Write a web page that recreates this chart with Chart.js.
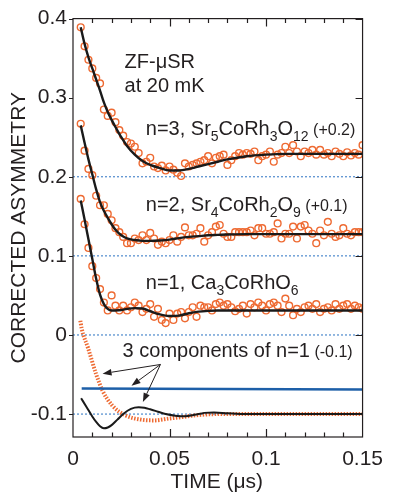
<!DOCTYPE html>
<html>
<head>
<meta charset="utf-8">
<script src="https://cdn.jsdelivr.net/npm/chart.js@4"></script>
<style>
  html, body { margin: 0; padding: 0; background: #fff; }
  #wrap { width: 393px; height: 497px; }
</style>
</head>
<body>
<div id="wrap"><canvas id="asymChart" width="393" height="497"></canvas></div>
<script>
// measured time bins (µs)
const TIME = [0.004,0.006,0.008,0.010,0.012,0.014,0.016,0.018,0.020,0.022,0.024,0.026,0.028,0.030,0.032,0.034,0.036,0.038,0.040,0.042,
  0.044,0.046,0.048,0.050,0.052,0.054,0.056,0.058,0.060,0.062,0.064,0.066,0.068,0.070,0.072,0.074,0.076,0.078,0.080,0.082,
  0.084,0.086,0.088,0.090,0.092,0.094,0.096,0.098,0.100,0.102,0.104,0.106,0.108,0.110,0.112,0.114,0.116,0.118,0.120,0.122,
  0.124,0.126,0.128,0.130,0.132,0.134,0.136,0.138,0.140,0.142,0.144,0.146,0.148,0.150];

// n=3 Sr5CoRh3O12 (+0.2)
const N3 = [0.389,0.365,0.348,0.337,0.325,0.318,0.285,0.277,0.281,0.269,
  0.259,0.252,0.244,0.242,0.238,0.230,0.217,0.219,0.224,0.213,
  0.211,0.214,0.208,0.213,0.209,0.205,0.201,0.217,0.213,0.215,
  0.217,0.219,0.221,0.226,0.217,0.224,0.226,0.228,0.215,0.221,
  0.226,0.230,0.228,0.230,0.229,0.232,0.221,0.226,0.228,0.232,
  0.219,0.228,0.230,0.238,0.230,0.240,0.232,0.226,0.232,0.230,
  0.234,0.228,0.234,0.228,0.230,0.226,0.232,0.229,0.226,0.231,
  0.227,0.230,0.228,0.240];

// n=2 Sr4CoRh2O9 (+0.1)
const N2 = [0.267,0.233,0.210,0.202,0.176,0.164,0.164,0.153,0.145,0.135,
  0.130,0.124,0.116,0.116,0.122,0.120,0.126,0.120,0.129,0.122,
  0.114,0.118,0.116,0.120,0.126,0.118,0.124,0.136,0.126,0.126,
  0.128,0.135,0.118,0.126,0.130,0.137,0.139,0.128,0.124,0.124,
  0.130,0.130,0.130,0.130,0.132,0.126,0.135,0.135,0.128,0.128,
  0.130,0.141,0.122,0.128,0.128,0.137,0.122,0.137,0.139,0.132,
  0.128,0.116,0.132,0.126,0.143,0.128,0.124,0.126,0.135,0.128,
  0.126,0.130,0.130,0.130];

// n=1 Ca3CoRhO6
const N1 = [0.172,0.140,0.110,0.087,0.072,0.058,0.041,0.031,0.050,0.037,
  0.031,0.037,0.031,0.035,0.041,0.037,0.029,0.033,0.039,0.023,
  0.033,0.019,0.015,0.027,0.019,0.027,0.029,0.021,0.029,0.035,
  0.023,0.037,0.035,0.035,0.031,0.039,0.041,0.037,0.039,0.035,
  0.030,0.033,0.037,0.027,0.039,0.035,0.041,0.037,0.031,0.039,
  0.041,0.037,0.029,0.046,0.037,0.025,0.033,0.029,0.035,0.037,
  0.033,0.039,0.029,0.033,0.035,0.031,0.039,0.033,0.037,0.039,
  0.033,0.037,0.035,0.033];

// fit curves
const FIT_T = [0.004,0.006,0.008,0.010,0.012,0.014,0.016,0.018,0.020,0.022,0.025,0.028,0.032,0.036,0.040,
  0.045,0.050,0.055,0.060,0.065,0.070,0.075,0.080,0.090,0.100,0.110,0.120,0.130,0.140,0.150];
const FIT3 = [0.389,0.368,0.351,0.337,0.323,0.309,0.294,0.282,0.272,0.263,0.250,0.239,0.228,0.220,0.215,
  0.211,0.208,0.208,0.210,0.213,0.216,0.219,0.222,0.226,0.228,0.229,0.229,0.229,0.229,0.229];
const FIT2 = [0.265,0.243,0.222,0.203,0.184,0.168,0.157,0.148,0.140,0.133,0.126,0.122,0.120,0.119,0.119,
  0.1195,0.1205,0.1225,0.124,0.125,0.126,0.1265,0.127,0.1275,0.1275,0.1275,0.1275,0.1275,0.1275,0.1275];
const FIT1 = [0.170,0.146,0.121,0.096,0.071,0.051,0.039,0.033,0.031,0.031,0.0315,0.033,0.034,0.0335,0.030,
  0.026,0.024,0.0245,0.0275,0.0295,0.0305,0.031,0.031,0.031,0.031,0.031,0.031,0.031,0.031,0.031];

// 3 components of n=1 (-0.1)
const OSC_T = [0.0042,0.007,0.010,0.012,0.014,0.016,0.018,0.020,0.023,0.026,0.030,0.034,0.037,0.040,0.044,
  0.048,0.053,0.058,0.063,0.068,0.073,0.080,0.090,0.100,0.150];
const OSC_V = [-0.080,-0.091,-0.103,-0.110,-0.1155,-0.118,-0.117,-0.114,-0.107,-0.100,-0.0935,-0.0915,-0.092,-0.094,-0.097,
  -0.100,-0.102,-0.1027,-0.101,-0.0985,-0.098,-0.099,-0.100,-0.100,-0.100];
const FAST_T = [0.0038,0.0045,0.0078,0.012,0.0153,0.0203,0.027,0.0353,0.042,0.050,0.057,0.0637,0.075,0.090,0.150];
const FAST_V = [0.018,0.008,-0.0166,-0.0497,-0.0704,-0.089,-0.1015,-0.107,-0.108,-0.1056,-0.1036,-0.1015,-0.100,-0.100,-0.100];
const TAIL_T = [0.0045,0.150];
const TAIL_V = [-0.0676,-0.069];

const REF_LEVELS = [0.2, 0.1, 0, -0.1];
const X_TICKS = [0, 0.05, 0.1, 0.15];
const X_TICK_LABELS = ['0', '0.05', '0.1', '0.15'];
const Y_TICKS = [-0.1, 0, 0.1, 0.2, 0.3, 0.4];
const Y_TICK_LABELS = ['-0.1', '0', '0.1', '0.2', '0.3', '0.4'];

const FONT = "'Liberation Sans', Arial, Helvetica, sans-serif";
const INK = '#231f20';
const ORANGE = '#ee6a32';
const BLUE = '#1d5fa8';
const DOT_BLUE = '#2a72c2';

// text annotations, anchored in data units: [t, asymmetry, parts]
const NOTES = [
  [0.0267, 0.337, [['ZF-μSR', 'n']]],
  [0.0267, 0.307, [['at 20 mK', 'n']]],
  [0.0377, 0.2526, [['n=3, Sr', 'n'], ['5', 's'], ['CoRh', 'n'], ['3', 's'], ['O', 'n'], ['12', 's'], [' (+0.2)', 'm']]],
  [0.0377, 0.157, [['n=2, Sr', 'n'], ['4', 's'], ['CoRh', 'n'], ['2', 's'], ['O', 'n'], ['9', 's'], [' (+0.1)', 'm']]],
  [0.0377, 0.0575, [['n=1, Ca', 'n'], ['3', 's'], ['CoRhO', 'n'], ['6', 's']]],
  [0.0257, -0.0276, [['3 components of n=1', 'n'], [' (-0.1)', 'm']]]
];
const ARROW_FROM = [0.0453, -0.0373];
const ARROW_TO = [[0.0153, -0.0489], [0.0303, -0.0641], [0.0362, -0.0848]];

function pts(xs, ys) { return xs.map((x, i) => ({ x: x, y: ys[i] })); }

function drawRich(ctx, x, y, parts) {
  let cx = x;
  parts.forEach(([txt, kind]) => {
    const size = kind === 's' ? 14 : (kind === 'm' ? 16 : 20);
    const dy = kind === 's' ? 6 : 0;
    ctx.font = size + 'px ' + FONT;
    ctx.fillText(txt, cx, y + dy);
    cx += ctx.measureText(txt).width;
  });
}

function arrow(ctx, x0, y0, x1, y1) {
  const a = Math.atan2(y1 - y0, x1 - x0);
  const L = 9, W = 3.3;
  const bx = x1 - L * Math.cos(a), by = y1 - L * Math.sin(a);
  ctx.beginPath();
  ctx.moveTo(x0, y0);
  ctx.lineTo(bx, by);
  ctx.stroke();
  ctx.beginPath();
  ctx.moveTo(x1, y1);
  ctx.lineTo(bx + W * Math.sin(a), by - W * Math.cos(a));
  ctx.lineTo(bx - W * Math.sin(a), by + W * Math.cos(a));
  ctx.closePath();
  ctx.fill();
}

const framePlugin = {
  id: 'frame',
  afterDraw(chart) {
    const ctx = chart.ctx;
    const a = chart.chartArea;
    const xs = chart.scales.x, ys = chart.scales.y;
    ctx.save();
    ctx.strokeStyle = INK;
    ctx.fillStyle = INK;
    ctx.lineWidth = 1.2;
    ctx.strokeRect(a.left, a.top, a.right - a.left, a.bottom - a.top);

    // ticks: minor every 0.01 on top/bottom, inward
    ctx.beginPath();
    for (let k = 1; k < 15; k++) {
      const px = Math.round(xs.getPixelForValue(k / 100)) + 0.5;
      const len = (k % 5 === 0) ? 8 : 4.5;
      ctx.moveTo(px, a.bottom); ctx.lineTo(px, a.bottom - len);
      ctx.moveTo(px, a.top); ctx.lineTo(px, a.top + len);
    }
    Y_TICKS.forEach(v => {
      const py = Math.round(ys.getPixelForValue(v)) + 0.5;
      ctx.moveTo(a.left - 4, py); ctx.lineTo(a.left, py);
      ctx.moveTo(a.right, py); ctx.lineTo(a.right - 7, py);
    });
    ctx.stroke();

    // annotations
    ctx.textAlign = 'left';
    ctx.textBaseline = 'alphabetic';
    NOTES.forEach(([t, v, parts]) => {
      drawRich(ctx, xs.getPixelForValue(t), ys.getPixelForValue(v), parts);
    });
    ctx.lineWidth = 1;
    const ox = xs.getPixelForValue(ARROW_FROM[0]), oy = ys.getPixelForValue(ARROW_FROM[1]);
    ARROW_TO.forEach(([t, v]) => arrow(ctx, ox, oy, xs.getPixelForValue(t), ys.getPixelForValue(v)));

    // axis titles
    ctx.font = '21px ' + FONT;
    ctx.textAlign = 'center';
    ctx.fillText('TIME (μs)', (a.left + a.right) / 2 - 1, 488);
    ctx.translate(25, (a.top + a.bottom) / 2);
    ctx.rotate(-Math.PI / 2);
    ctx.fillText('CORRECTED ASYMMETRY', 0, 0);
    ctx.restore();
  }
};

const datasets = [];
REF_LEVELS.forEach(l => datasets.push({
  data: [{ x: 0, y: l }, { x: 0.15, y: l }],
  showLine: true, borderColor: DOT_BLUE, borderWidth: 1, borderDash: [2, 2],
  pointRadius: 0, order: 6
}));
[N3, N2, N1].forEach(s => datasets.push({
  data: pts(TIME, s), showLine: false,
  pointRadius: 3.4, pointBorderWidth: 1.4, pointBorderColor: ORANGE,
  pointBackgroundColor: 'rgba(255,255,255,0)', order: 4
}));
[FIT3, FIT2, FIT1].forEach(s => datasets.push({
  data: pts(FIT_T, s), showLine: true, borderColor: '#1a1a1a', borderWidth: 2.4,
  pointRadius: 0, cubicInterpolationMode: 'monotone', order: 1
}));
datasets.push({
  data: pts(FAST_T, FAST_V), showLine: true, borderColor: ORANGE, borderWidth: 4,
  borderDash: [1.5, 1.5], pointRadius: 0, cubicInterpolationMode: 'monotone', order: 3
});
datasets.push({
  data: pts(TAIL_T, TAIL_V), showLine: true, borderColor: BLUE, borderWidth: 2.6,
  pointRadius: 0, order: 2
});
datasets.push({
  data: pts(OSC_T, OSC_V), showLine: true, borderColor: '#1a1a1a', borderWidth: 2,
  pointRadius: 0, cubicInterpolationMode: 'monotone', order: 1
});

new Chart(document.getElementById('asymChart'), {
  type: 'scatter',
  data: { datasets: datasets },
  options: {
    responsive: false,
    animation: false,
    events: [],
    devicePixelRatio: 1,
    layout: { padding: { top: 11, right: 20, left: 0, bottom: 0 } },
    plugins: { legend: { display: false }, tooltip: { enabled: false } },
    scales: {
      x: {
        type: 'linear', min: 0, max: 0.15,
        afterBuildTicks: s => { s.ticks = X_TICKS.map(v => ({ value: v })); },
        afterFit: s => { s.height = 60; },
        grid: { display: false, drawTicks: false },
        border: { display: false },
        ticks: {
          padding: 10, color: INK, font: { family: FONT, size: 21 }, maxRotation: 0,
          callback: v => X_TICK_LABELS[X_TICKS.indexOf(v)]
        }
      },
      y: {
        type: 'linear', min: -0.129, max: 0.4,
        afterBuildTicks: s => { s.ticks = Y_TICKS.map(v => ({ value: v })); },
        afterFit: s => { s.width = 73; },
        grid: { display: false, drawTicks: false },
        border: { display: false },
        ticks: {
          padding: 6, color: INK, font: { family: FONT, size: 21 },
          callback: v => Y_TICK_LABELS[Y_TICKS.indexOf(v)]
        }
      }
    }
  },
  plugins: [framePlugin]
});
</script>
</body>
</html>
